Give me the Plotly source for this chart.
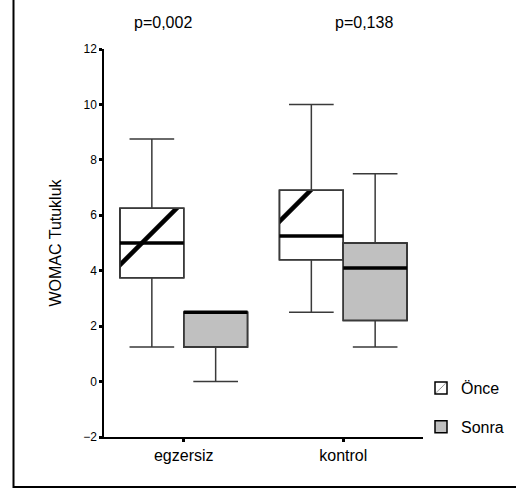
import plotly.graph_objects as go

categories = ["egzersiz", "kontrol"]
series_names = ["Önce", "Sonra"]

# box statistics per category
once_min = [1.25, 2.5]
once_q1 = [3.75, 4.4]
once_med = [5.0, 5.25]
once_q3 = [6.25, 6.9]
once_max = [8.75, 10.0]

sonra_min = [0.0, 1.25]
sonra_q1 = [1.25, 2.2]
sonra_med = [2.5, 4.1]
sonra_q3 = [2.5, 5.0]
sonra_max = [2.5, 7.5]

p_values = ["p=0,002", "p=0,138"]
y_ticks = [-2, 0, 2, 4, 6, 8, 10, 12]

FONT = "Liberation Sans, Arial, sans-serif"
pos = list(range(len(categories)))
BW = 0.4  # box width in category units

# plot area in px
L, R, T, B = 104, 93, 49, 51
W, H = 516, 488
pw, ph = W - L - R, H - T - B

def px_to_paper_x(px):
    return (px - L) / pw

def px_to_paper_y(py):
    return (H - B - py) / ph

fig = go.Figure()

# box bodies as bars (for pattern fill + legend icons)
fig.add_trace(go.Bar(
    x=pos, base=once_q1, y=[b - a for a, b in zip(once_q1, once_q3)],
    width=BW, offset=-BW, name=series_names[0],
    marker=dict(color="white", line=dict(color="black", width=1.5),
                pattern=dict(shape="/", fgcolor="black", bgcolor="white",
                             fgopacity=1, size=82, solidity=0.055)),
    hoverinfo="skip", legendgroup="a",
))
fig.add_trace(go.Bar(
    x=pos, base=sonra_q1, y=[b - a for a, b in zip(sonra_q1, sonra_q3)],
    width=BW, offset=0, name=series_names[1],
    marker=dict(color="#c0c0c0", line=dict(color="black", width=1.5)),
    hoverinfo="skip", legendgroup="b",
))

# whiskers/outline via box traces
fig.add_trace(go.Box(
    x=[i - BW / 2 for i in pos], width=BW,
    q1=once_q1, median=once_med, q3=once_q3,
    lowerfence=once_min, upperfence=once_max,
    fillcolor="rgba(0,0,0,0)", line=dict(color="#3a3a3a", width=1.5),
    whiskerwidth=0.7, showlegend=False, name=series_names[0],
))
fig.add_trace(go.Box(
    x=[i + BW / 2 for i in pos], width=BW,
    q1=sonra_q1, median=sonra_med, q3=sonra_q3,
    lowerfence=sonra_min, upperfence=sonra_max,
    fillcolor="rgba(0,0,0,0)", line=dict(color="#3a3a3a", width=1.5),
    whiskerwidth=0.7, showlegend=False, name=series_names[1],
))

# thick median lines
mx, my = [], []
for i in pos:
    mx += [i - BW, i, None]
    my += [once_med[i], once_med[i], None]
    mx += [i, i + BW, None]
    my += [sonra_med[i], sonra_med[i], None]
fig.add_trace(go.Scatter(x=mx, y=my, mode="lines",
                         line=dict(color="black", width=3.5),
                         showlegend=False, hoverinfo="skip"))

annotations = []
for txt, cx in zip(p_values, [163, 364]):
    annotations.append(dict(text=txt, x=px_to_paper_x(cx), y=px_to_paper_y(22),
                            xref="paper", yref="paper", showarrow=False,
                            xanchor="center", yanchor="middle",
                            font=dict(family=FONT, size=16, color="black")))

shapes = [dict(type="rect", xref="paper", yref="paper",
               x0=px_to_paper_x(13.5), x1=px_to_paper_x(530),
               y0=px_to_paper_y(487), y1=px_to_paper_y(-10),
               line=dict(color="black", width=2), fillcolor="rgba(0,0,0,0)")]

fig.update_layout(
    width=W, height=H,
    margin=dict(l=L, r=R, t=T, b=B, autoexpand=False),
    paper_bgcolor="white", plot_bgcolor="white",
    barmode="overlay",
    font=dict(family=FONT, color="black"),
    annotations=annotations, shapes=shapes,
    legend=dict(x=px_to_paper_x(421), y=px_to_paper_y(371), xanchor="left", yanchor="top",
                xref="paper", yref="paper",
                font=dict(family=FONT, size=16, color="black"),
                tracegroupgap=15, bgcolor="rgba(0,0,0,0)"),
    xaxis=dict(range=[-0.5, 1.5], tickvals=pos, ticktext=categories,
               showline=True, linecolor="black", linewidth=1.5,
               ticks="outside", ticklen=3, tickwidth=3, tickcolor="black",
               showgrid=False, zeroline=False,
               tickfont=dict(family=FONT, size=16, color="black")),
    yaxis=dict(range=[-2, 12], tickvals=y_ticks,
               showline=True, linecolor="black", linewidth=1.5,
               ticks="outside", ticklen=3, tickwidth=3, tickcolor="black",
               showgrid=False, zeroline=False,
               tickfont=dict(family=FONT, size=12, color="black"),
               title=dict(text="WOMAC Tutukluk", standoff=18,
                          font=dict(family=FONT, size=16, color="black"))),
)

fig.write_html("out.html")
